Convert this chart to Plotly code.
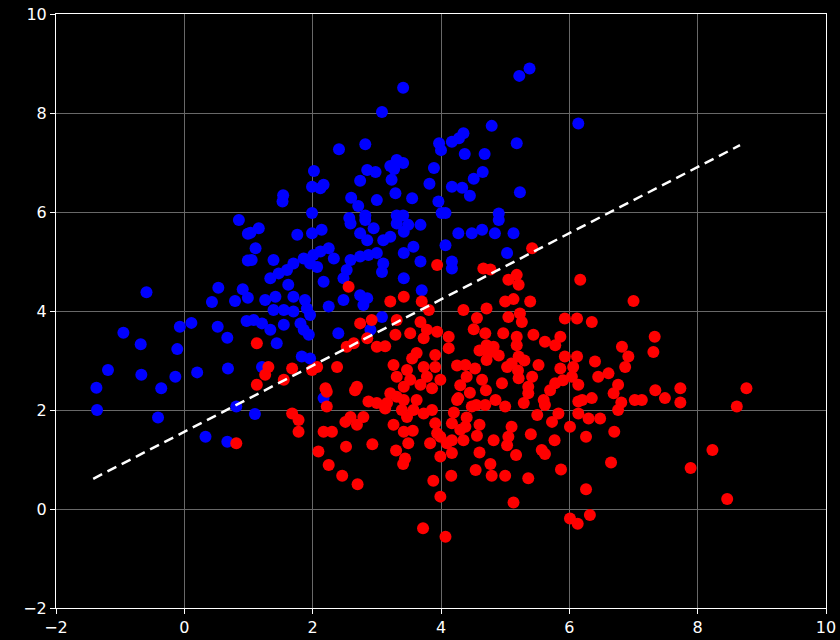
import plotly.graph_objects as go

# Class A (blue) samples
blue_x = [3.41, 3.08, 2.41, 2.82, 3.97, 4.00, 3.31, 3.21, 3.41, 3.27, 2.85, 2.98, 3.89, 2.02, 2.74,
          3.23, 3.82, 1.99, 2.12, 2.17, 1.54, 1.53, 2.60, 3.29, 3.00, 3.55, 2.71, 3.96, 1.99, 2.57,
          2.82, 3.31, 3.41, 4.01, 5.38, 5.22, 6.14, 4.79, 4.35, 4.28, 4.17, 5.18, 4.37, 4.68, 4.65,
          4.51, 4.17, 4.33, 4.45, 5.23, 4.90, 4.07, -0.59, 0.53, 0.91, 0.43, 0.79, 0.99, 0.99, 0.99,
          0.85, 0.11, -0.07, 0.52, 0.67, -0.95, -0.68, -0.11, 0.97, -1.19, -0.67, -0.14, 0.20, 0.68,
          -1.37, -0.36, -1.36, -0.41, 0.81, 0.33, 0.67, 1.16, 1.03, 1.76, 1.99, 2.14, 2.59, 2.82,
          2.95, 2.74, 2.85, 3.10, 3.21, 3.31, 3.49, 3.68, 3.42, 1.11, 1.39, 1.70, 1.86, 2.01, 2.12,
          2.25, 2.33, 2.07, 1.96, 2.59, 2.74, 2.87, 3.00, 2.53, 2.48, 3.10, 3.08, 3.42, 3.57, 3.68,
          1.05, 1.47, 1.34, 1.60, 1.62, 2.17, 3.42, 1.26, 1.42, 1.70, 1.88, 1.91, 1.96, 2.25, 2.48,
          2.74, 2.85, 2.79, 3.70, 1.39, 1.55, 1.70, 1.08, 1.21, 1.34, 1.55, 1.81, 1.86, 1.94, 2.40,
          3.08, 2.90, 1.44, 1.83, 1.96, 1.21, 4.27, 4.48, 4.64, 4.84, 5.13, 5.03, 4.17, 4.17, 4.07,
          4.90, 1.10, 2.17]
blue_y = [8.51, 8.02, 7.27, 7.37, 7.39, 7.25, 7.05, 6.93, 6.99, 6.87, 6.85, 6.81, 6.89, 6.83, 6.63,
          6.65, 6.57, 6.51, 6.48, 6.55, 6.34, 6.21, 6.29, 6.38, 6.24, 6.28, 6.12, 6.21, 5.98, 5.88,
          5.93, 5.93, 5.93, 5.98, 8.90, 8.75, 7.79, 7.74, 7.59, 7.49, 7.42, 7.39, 7.17, 7.17, 6.81,
          6.67, 6.51, 6.49, 6.33, 6.40, 5.97, 5.98, 4.38, 4.47, 4.44, 4.18, 4.20, 4.27, 5.56, 5.02,
          5.84, 3.76, 3.68, 3.68, 3.46, 3.56, 3.33, 3.23, 3.80, 2.81, 2.71, 2.67, 2.76, 2.84,
          2.45, 2.44, 2.00, 1.85, 2.07, 1.46, 1.36, 5.67, 5.58, 5.54, 5.57, 5.64, 5.77, 5.84,
          5.67, 5.57, 5.43, 5.43, 5.50, 5.77, 5.74, 5.74, 5.60, 5.27, 5.03, 4.96, 5.06, 5.13, 5.20,
          5.27, 5.06, 4.89, 4.96, 5.03, 5.10, 5.13, 5.17, 4.83, 4.66, 4.96, 4.79, 5.17, 5.30, 5.00,
          5.03, 4.76, 4.66, 4.83, 4.53, 4.59, 4.66, 4.22, 4.29, 4.29, 4.22, 4.05, 3.92, 4.09, 4.22,
          4.32, 4.26, 4.12, 4.42, 4.02, 4.02, 3.99, 3.82, 3.75, 3.62, 3.72, 3.75, 3.62, 3.52, 3.55,
          3.88, 3.62, 3.35, 3.08, 3.04, 2.87, 5.57, 5.57, 5.64, 5.57, 5.57, 5.17, 5.00, 4.86, 5.33,
          5.84, 1.92, 2.24]

# Class B (red) samples
red_x = [2.56, 3.94, 3.21, 3.42, 3.70, 3.81, 2.74, 2.92, 3.31, 3.68, 3.78, 3.94, 3.29, 3.52, 3.73,
         1.13, 2.53, 2.64, 2.85, 3.00, 3.13, 3.62, 3.55, 3.91, 1.31, 1.26, 1.68, 1.99, 2.07, 2.38,
         1.55, 1.13, 3.26, 3.47, 3.73, 3.91, 3.31, 3.52, 3.78, 3.99, 3.42, 3.68, 2.20, 2.69, 3.86,
         5.42, 6.17, 7.00, 4.66, 4.77, 5.05, 5.18, 5.21, 5.00, 5.13, 5.39, 4.35, 4.71, 4.56, 5.05,
         5.23, 5.26, 5.93, 6.12, 6.35, 4.51, 4.69, 4.97, 5.18, 5.18, 5.44, 5.62, 5.86, 5.78, 4.12,
         4.12, 4.71, 4.82, 4.74, 4.71, 5.21, 5.93, 6.12, 6.82, 4.38, 4.53, 5.03, 5.10, 5.52, 5.86,
         6.06, 6.40, 6.92, 6.87, 6.61, 6.45, 4.40, 4.64, 4.95, 5.21, 5.42, 5.36, 5.78, 6.04, 6.14,
         6.76, 7.33, 7.31, 7.34, 7.73, 8.76, 1.68, 1.78, 1.78, 2.09, 2.25, 2.46, 2.70, 2.22, 2.22,
         2.17, 2.30, 2.52, 2.51, 2.59, 2.69, 2.79, 2.93, 2.87, 3.00, 3.13, 3.16, 3.26, 3.31, 3.42,
         3.39, 3.47, 3.57, 3.62, 3.42, 3.56, 3.49, 3.30, 3.44, 3.41, 3.73, 3.86, 3.91, 3.94, 3.83,
         3.99, 3.99, 3.88, 3.99, 3.72, 4.07, 2.66, 3.21, 5.13, 6.01, 6.13, 6.32, 6.26, 6.65, 5.87,
         5.36, 5.00, 4.79, 4.77, 4.54, 4.16, 4.60, 5.17, 5.57, 5.62, 4.35, 4.56, 4.82, 5.03, 5.05,
         5.10, 5.40, 5.77, 6.01, 6.26, 6.70, 6.76, 6.81, 5.73, 5.83, 5.62, 6.14, 6.30, 6.48, 6.14,
         6.35, 6.69, 7.02, 5.36, 5.29, 5.00, 4.69, 4.48, 4.27, 4.17, 4.38, 4.17, 4.17, 4.09, 7.13,
         7.49, 7.73, 8.61, 8.23, 7.89, 8.46, 0.81,
         4.25, 4.30, 4.45, 4.55, 4.20, 4.40, 4.60, 4.30, 4.25, 4.70, 4.85, 5.20, 5.30, 4.90, 4.60,
         5.60, 5.50, 5.90, 6.20, 5.70]
red_y = [4.49, 4.93, 4.19, 4.29, 4.19, 4.02, 3.75, 3.82, 3.82, 3.78, 3.62, 3.58, 3.52, 3.55, 3.45,
         3.35, 3.28, 3.35, 3.45, 3.28, 3.29, 3.15, 3.04, 3.11, 2.87, 2.71, 2.84, 2.81, 2.87, 2.87,
         2.61, 2.51, 2.91, 2.81, 2.87, 2.87, 2.67, 2.61, 2.67, 2.61, 2.47, 2.51, 2.44, 2.47, 2.44,
         5.27, 4.63, 4.20, 4.86, 4.84, 4.63, 4.73, 4.53, 4.19, 4.24, 4.19, 4.02, 4.05, 3.86, 3.88,
         3.95, 3.78, 3.85, 3.85, 3.78, 3.63, 3.55, 3.55, 3.48, 3.31, 3.52, 3.38, 3.48, 3.31, 3.48,
         3.25, 3.31, 3.28, 3.15, 3.01, 3.08, 3.08, 3.08, 3.28, 2.91, 2.84, 2.87, 2.94, 2.91, 2.84,
         2.87, 2.98, 3.08, 2.87, 2.74, 2.67, 2.67, 2.61, 2.54, 2.64, 2.67, 2.47, 2.54, 2.67, 2.51,
         2.51, 3.48, 3.17, 2.40, 2.44, 2.44, 1.93, 1.80, 1.56, 1.16, 0.89, 0.67, 0.50, 2.07, 2.37,
         1.56, 1.56, 1.26, 1.76, 1.86, 1.70, 1.86, 1.31, 2.17, 2.14, 2.03, 2.14, 1.70, 2.27, 2.20,
         2.00, 1.86, 2.00, 2.20, 1.56, 1.58, 1.33, 1.18, 1.02, 0.91, 1.93, 2.00, 1.73, 1.53, 1.33,
         1.46, 1.06, 0.57, 0.25, -0.39, -0.56, 2.40, 2.34, 0.13, -0.19, -0.30, -0.12, 0.40, 0.94, 0.80,
         0.62, 0.67, 0.67, 0.91, 0.79, 0.67, 1.14, 1.09, 1.19, 1.11, 1.39, 1.48, 1.39, 1.29, 1.46,
         1.66, 1.51, 1.39, 1.66, 1.46, 1.56, 2.00, 2.15, 1.76, 1.93, 2.10, 1.93, 1.83, 1.83, 2.17,
         2.24, 2.34, 2.20, 2.34, 2.14, 2.07, 2.10, 2.07, 2.24, 1.73, 1.66, 1.39, 1.13, 1.33, 2.20,
         2.24, 2.15, 2.07, 1.19, 0.83, 0.20, 1.33,
         2.90, 2.50, 2.35, 2.10, 1.95, 1.85, 1.70, 1.60, 2.20, 2.40, 2.20, 2.80, 3.00, 3.10, 3.20,
         2.20, 1.90, 2.60, 2.20, 2.40]

# Decision boundary (dashed line)
boundary_x = [-1.42, 8.66]
boundary_y = [0.61, 7.35]

axis_ticks = [-2, 0, 2, 4, 6, 8, 10]

fig = go.Figure()
fig.add_trace(go.Scatter(
    x=blue_x, y=blue_y, mode="markers",
    marker=dict(color="#0000ff", size=12, line=dict(width=0)),
    showlegend=False, hoverinfo="skip"))
fig.add_trace(go.Scatter(
    x=red_x, y=red_y, mode="markers",
    marker=dict(color="#ff0000", size=12, line=dict(width=0)),
    showlegend=False, hoverinfo="skip"))
fig.add_trace(go.Scatter(
    x=boundary_x, y=boundary_y, mode="lines",
    line=dict(color="white", width=2.5, dash="10px,6px"),
    showlegend=False, hoverinfo="skip"))

axis_style = dict(
    tickmode="array", tickvals=axis_ticks, automargin=False,
    showgrid=True, gridcolor="#686868", gridwidth=1,
    zeroline=False, showline=True, linecolor="white", linewidth=1, mirror=True,
    ticks="outside", ticklen=5, tickcolor="white", tickwidth=1,
    tickfont=dict(family="DejaVu Sans", size=16, color="white"),
)

fig.update_xaxes(range=[-2, 10], **axis_style)
fig.update_yaxes(range=[-2, 10], **axis_style)

fig.update_layout(
    width=840, height=640,
    margin=dict(l=56, r=14, t=14, b=32, autoexpand=False),
    paper_bgcolor="black", plot_bgcolor="black",
)

fig.write_html("out.html")
